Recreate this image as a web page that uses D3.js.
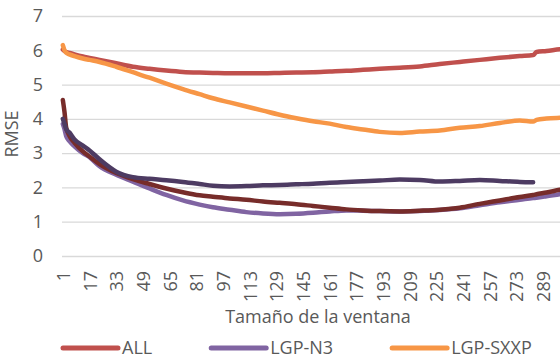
<!DOCTYPE html>
<html>
<head>
<meta charset="utf-8">
<script src="https://cdn.jsdelivr.net/npm/d3@7"></script>
<style>
  body { margin: 0; background: #fff; overflow: hidden; }
  #chart { width: 560px; height: 362px; overflow: hidden; }
  text { font-family: "Open Sans", Lato, sans-serif; fill: #595959; }
</style>
</head>
<body>
<div id="chart"></div>
<script>
"use strict";

/*
 * # Data
 */
var ventana = [1, 2, 3, 5, 8, 13, 17, 23, 33, 43, 53, 63, 73, 83, 91, 101, 111, 121, 131, 141,
               151, 161, 171, 181, 191, 203, 215, 227, 239, 251, 263, 275, 283, 285, 291, 299, 307];

var rmseAll = [6.02, 5.98, 5.95, 5.92, 5.88, 5.82, 5.78, 5.72, 5.62, 5.52, 5.46, 5.41, 5.37, 5.35, 5.34, 5.33, 5.33, 5.33, 5.34, 5.35,
               5.36, 5.38, 5.40, 5.43, 5.46, 5.49, 5.53, 5.60, 5.66, 5.72, 5.78, 5.83, 5.86, 5.95, 5.98, 6.03, 6.06];

var rmseN3 = [3.85, 3.70, 3.50, 3.35, 3.20, 3.00, 2.88, 2.62, 2.37, 2.17, 1.97, 1.78, 1.62, 1.50, 1.42, 1.35, 1.28, 1.24, 1.22, 1.23,
              1.26, 1.30, 1.33, 1.32, 1.31, 1.30, 1.31, 1.34, 1.39, 1.48, 1.57, 1.64, 1.69, 1.70, 1.74, 1.80, 1.85];

var rmseSXXP = [6.15, 6.00, 5.93, 5.88, 5.83, 5.76, 5.72, 5.66, 5.52, 5.36, 5.20, 5.03, 4.87, 4.72, 4.60, 4.48, 4.36, 4.24, 4.12, 4.02,
                3.93, 3.86, 3.76, 3.69, 3.62, 3.59, 3.63, 3.66, 3.74, 3.79, 3.88, 3.95, 3.92, 3.97, 4.01, 4.03, 4.04];

// the last two series run past the right edge of the legend, so their names are not visible
var rmseSerie4 = [4.55, 4.20, 3.75, 3.50, 3.30, 3.05, 2.90, 2.68, 2.42, 2.24, 2.10, 1.97, 1.86, 1.77, 1.73, 1.68, 1.64, 1.59, 1.55, 1.51,
                  1.46, 1.41, 1.36, 1.33, 1.31, 1.30, 1.32, 1.35, 1.41, 1.52, 1.62, 1.72, 1.78, 1.80, 1.85, 1.93, 1.99];

var rmseSerie5 = [4.00, 3.85, 3.70, 3.60, 3.40, 3.22, 3.08, 2.82, 2.46, 2.30, 2.25, 2.21, 2.16, 2.10, 2.05, 2.03, 2.04, 2.06, 2.07, 2.09,
                  2.11, 2.14, 2.16, 2.18, 2.20, 2.23, 2.22, 2.17, 2.19, 2.22, 2.19, 2.16, 2.15, null, null, null, null];

var yTicks = [0, 1, 2, 3, 4, 5, 6, 7];
var xTicks = d3.range(1, 290, 16);

var series = [
  { name: "ALL", values: rmseAll, color: "#C0504D", legend: true },
  { name: "LGP-N3", values: rmseN3, color: "#8064A2", legend: true },
  { name: "LGP-SXXP", values: rmseSXXP, color: "#F79646", legend: true },
  { name: "Serie 4", values: rmseSerie4, color: "#772C2A", legend: false },
  { name: "Serie 5", values: rmseSerie5, color: "#4D3B62", legend: false }
];

/*
 * # Boilerplate Code for d3.js
 */
var margin = { top: 16, right: 0, bottom: 106, left: 62 },
    width = 512,            // plot runs a little past the window on the right
    height = 240;

var svg = d3.select("#chart")
            .append("svg")
            .attr("width", 560)
            .attr("height", 362)
            .append("g")
            .attr("transform", "translate(" + margin.left + "," + margin.top + ")");

/*
 * # Scales
 */
var xScale = d3.scaleLinear()
               .domain([0.5, 307.5])
               .range([0, width]);

var yScale = d3.scaleLinear()
               .domain([0, 7])
               .range([height, 0]);

/*
 * # Axes
 */
var yAxis = d3.axisLeft(yScale)
              .tickValues(yTicks)
              .tickSize(-width)
              .tickPadding(19)
              .tickFormat(d3.format("d"));

svg.append("g")
   .attr("class", "y-axis")
   .call(yAxis)
   .call(function (g) { g.select(".domain").remove(); })
   .call(function (g) {
     g.selectAll(".tick line").attr("stroke", "#D9D9D9").attr("stroke-width", 1.3);
     g.selectAll(".tick text").style("font-size", "18px").attr("fill", "#595959");
   });

var xAxis = d3.axisBottom(xScale)
              .tickValues(xTicks)
              .tickSize(0)
              .tickFormat(d3.format("d"));

svg.append("g")
   .attr("class", "x-axis")
   .attr("transform", "translate(0," + height + ")")
   .call(xAxis)
   .call(function (g) { g.select(".domain").remove(); })
   .call(function (g) {
     g.selectAll(".tick text")
      .style("font-size", "18px")
      .attr("fill", "#595959")
      .attr("transform", "rotate(-90)")
      .attr("text-anchor", "end")
      .attr("dx", "-15px")
      .attr("dy", "0.36em")
      .attr("x", 0)
      .attr("y", 0);
   });

// axis titles
svg.append("text")
   .attr("x", 256)
   .attr("y", height + 67)
   .attr("text-anchor", "middle")
   .style("font-size", "18px")
   .text("Tamaño de la ventana");

svg.append("text")
   .attr("transform", "translate(-44," + (height / 2 - 2) + ") rotate(-90)")
   .attr("text-anchor", "middle")
   .style("font-size", "18px")
   .text("RMSE");

/*
 * # Lines
 */
var line = d3.line()
             .defined(function (d) { return d[1] !== null; })
             .x(function (d) { return xScale(d[0]); })
             .y(function (d) { return yScale(d[1]); })
             .curve(d3.curveMonotoneX);

svg.selectAll(".serie")
   .data(series)
   .enter()
   .append("path")
   .attr("class", "serie")
   .attr("fill", "none")
   .attr("stroke", function (d) { return d.color; })
   .attr("stroke-width", 4.5)
   .attr("stroke-linejoin", "round")
   .attr("stroke-linecap", "round")
   .attr("d", function (d) {
     return line(ventana.map(function (v, i) { return [v, d.values[i]]; }));
   });

/*
 * # Legend
 */
var legend = svg.append("g")
                .attr("transform", "translate(1," + (height + 92) + ")");

var lx = 0;
series.filter(function (d) { return d.legend; }).forEach(function (d) {
  var item = legend.append("g").attr("transform", "translate(" + lx + ",0)");
  item.append("line")
      .attr("x1", 0).attr("x2", 55)
      .attr("stroke", d.color)
      .attr("stroke-width", 5)
      .attr("stroke-linecap", "round");
  var t = item.append("text")
      .attr("x", 59)
      .attr("dy", "0.35em")
      .style("font-size", "18px")
      .text(d.name);
  lx += 59 + t.node().getComputedTextLength() + 59;
});
</script>
</body>
</html>
